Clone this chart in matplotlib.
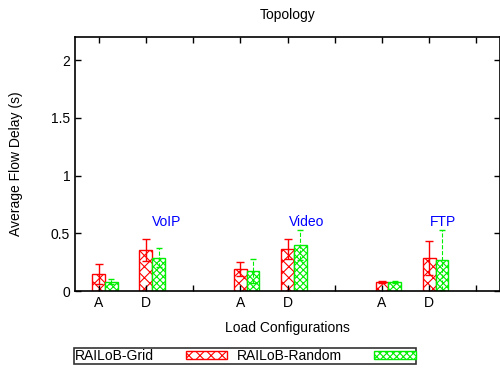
import matplotlib.pyplot as plt
import numpy as np
import matplotlib as mpl

plt.rcParams['font.family'] = ['Liberation Sans', 'DejaVu Sans']
mpl.rcParams['hatch.linewidth'] = 0.8

# bar slots 1..9 (A, D, gap) x 3 traffic types
positions = [1, 2, 4, 5, 7, 8]
tick_labels = ['A', 'D', '', 'A', 'D', '', 'A', 'D', '']
grid_vals = [0.147, 0.355, 0.19, 0.363, 0.078, 0.283]
grid_err = [0.085, 0.095, 0.06, 0.087, 0.012, 0.147]
rand_vals = [0.08, 0.29, 0.175, 0.40, 0.078, 0.265]
rand_err = [0.02, 0.08, 0.105, 0.13, 0.012, 0.26]
traffic = ['VoIP', 'Video', 'FTP']
traffic_x = [2.44, 5.4, 8.3]

fig = plt.figure(figsize=(5, 3.71), dpi=100)
ax = fig.add_axes([0.15, 0.2156, 0.85, 0.6847])

w = 0.27
x = np.array(positions, dtype=float)
b1 = ax.bar(x, grid_vals, w, color='white', edgecolor='red', hatch='xxx', linewidth=1.0, label='RAILoB-Grid')
b2 = ax.bar(x + w, rand_vals, w, color='white', edgecolor='#00ee00', hatch='xxxxx', linewidth=1.0, label='RAILoB-Random')
ax.errorbar(x, grid_vals, yerr=grid_err, fmt='none', ecolor='red', elinewidth=1, capsize=3)
e2 = ax.errorbar(x + w, rand_vals, yerr=rand_err, fmt='none', ecolor='#00ee00', elinewidth=0.8, capsize=2)
e2[2][0].set_linestyle('--')

for t, tx in zip(traffic, traffic_x):
    ax.text(tx, 0.6, t, color='blue', fontsize=10, ha='center', va='center')

ax.set_xlim(0.5, 9.5)
ax.set_ylim(0, 2.2)
ax.set_xticks(range(1, 10))
ax.set_xticklabels(tick_labels)
ax.set_yticks([0, 0.5, 1, 1.5, 2])
ax.set_yticklabels(['0', '0.5', '1', '1.5', '2'])
ax.tick_params(direction='in', top=True, right=True, labelsize=10, length=4, width=1.0)
for s in ax.spines.values():
    s.set_linewidth(1.2)
ax.set_xlabel('Load Configurations', fontsize=10, labelpad=8)
ax.set_ylabel('Average Flow Delay (s)', fontsize=10, labelpad=20)
ax.set_title('Topology', fontsize=10, pad=13)

leg = fig.legend(handles=[b1, b2], loc='lower left', bbox_to_anchor=(0.148, 0.02),
                 ncol=2, markerfirst=False, fontsize=10, frameon=True, fancybox=False,
                 edgecolor='black', handlelength=3.0, handleheight=0.6,
                 borderpad=0.05, columnspacing=0.7, handletextpad=2.3, borderaxespad=0)
leg.get_frame().set_linewidth(1.2)

fig.savefig('out.png', dpi=100)
